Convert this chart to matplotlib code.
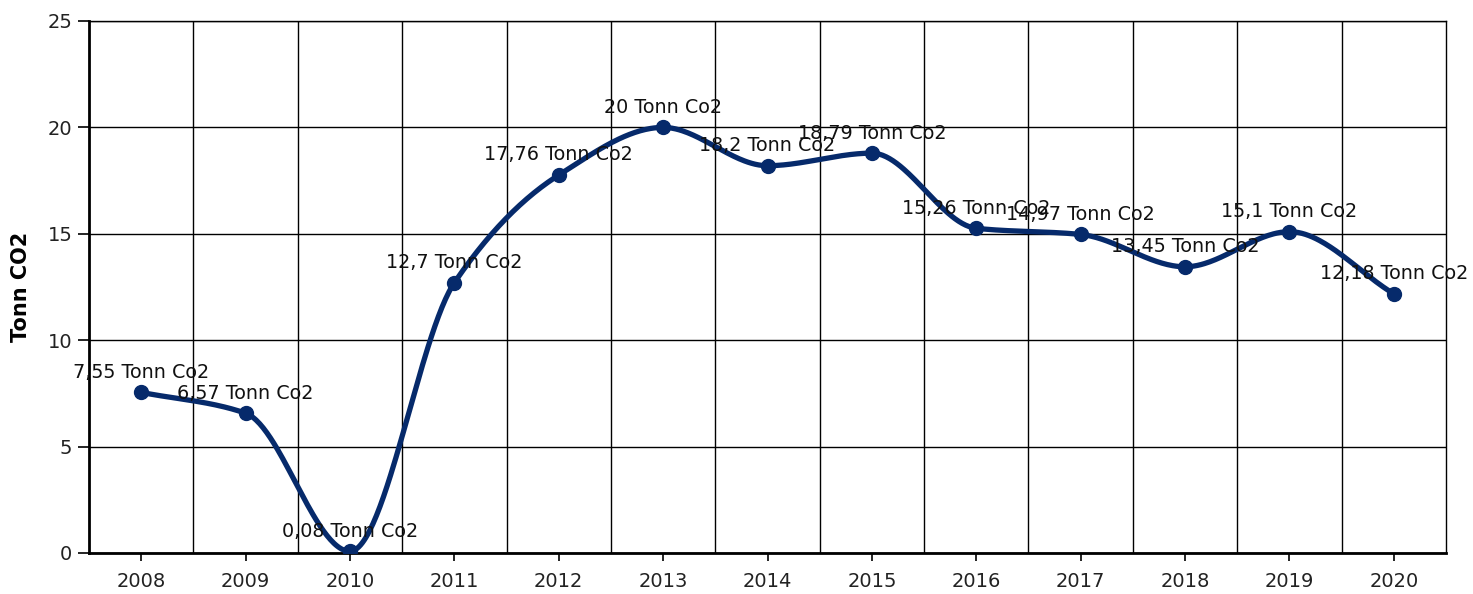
import numpy as np
import matplotlib
matplotlib.use("Agg")
import matplotlib.pyplot as plt

years = ["2008", "2009", "2010", "2011", "2012", "2013", "2014",
         "2015", "2016", "2017", "2018", "2019", "2020"]
values = [7.55, 6.57, 0.08, 12.7, 17.76, 20, 18.2, 18.79, 15.26, 14.97, 13.45, 15.1, 12.18]
labels = ["7,55", "6,57", "0,08", "12,7", "17,76", "20", "18,2",
          "18,79", "15,26", "14,97", "13,45", "15,1", "12,18"]

color = "#062a6b"

fig = plt.figure(figsize=(14.73, 5.94), dpi=100)
ax = fig.add_axes([89 / 1473, 41 / 594, 1357 / 1473, 532 / 594])
ax.set_xlim(-0.5, len(years) - 0.5)
ax.set_ylim(0, 25)

# smoothed line: monotone cubic (harmonic-mean tangents, flat at extrema)
x = np.arange(len(values), dtype=float)
y = np.array(values, dtype=float)
s = np.diff(y)
d = np.zeros_like(y)
d[0], d[-1] = s[0], s[-1]
for i in range(1, len(y) - 1):
    if s[i - 1] * s[i] > 0:
        d[i] = 2 / (1 / s[i - 1] + 1 / s[i])
cx, cy = [], []
t = np.linspace(0, 1, 60)
for i in range(len(y) - 1):
    h00 = 2 * t ** 3 - 3 * t ** 2 + 1
    h10 = t ** 3 - 2 * t ** 2 + t
    h01 = -2 * t ** 3 + 3 * t ** 2
    h11 = t ** 3 - t ** 2
    cx.extend(x[i] + t)
    cy.extend(h00 * y[i] + h10 * d[i] + h01 * y[i + 1] + h11 * d[i + 1])

ax.plot(cx, cy, color=color, lw=3.8, solid_capstyle="round", zorder=3)
ax.plot(x, y, "o", color=color, ms=10, zorder=4)

for xi, yi, lab in zip(x, y, labels):
    ax.annotate(lab + " Tonn Co2", (xi, yi), xytext=(0, 14.5), textcoords="offset points",
                ha="center", va="center", fontsize=13.8, color="#111111", zorder=5)

ax.set_xticks(x)
ax.set_xticklabels(years)
ax.set_xticks(np.arange(0.5, len(years) - 0.5, 1), minor=True)
ax.set_yticks(np.arange(0, 26, 5))
ax.grid(True, which="minor", axis="x", color="black", lw=1)
ax.grid(True, which="major", axis="y", color="black", lw=1)
ax.tick_params(axis="x", which="minor", length=0)
ax.tick_params(axis="x", which="major", length=6, width=1.2, direction="out", pad=8,
               labelsize=14, labelcolor="#222222")
ax.tick_params(axis="y", length=8, width=1.2, direction="out", pad=4,
               labelsize=14, labelcolor="#222222")
ax.set_axisbelow(True)

for sp in ["left", "bottom"]:
    ax.spines[sp].set_linewidth(2)
for sp in ["top", "right"]:
    ax.spines[sp].set_linewidth(1)

ax.set_ylabel("Tonn CO2", fontsize=15, fontweight="bold")
ax.yaxis.set_label_coords(-0.043, 0.5)

fig.savefig("out.png", dpi=100)
